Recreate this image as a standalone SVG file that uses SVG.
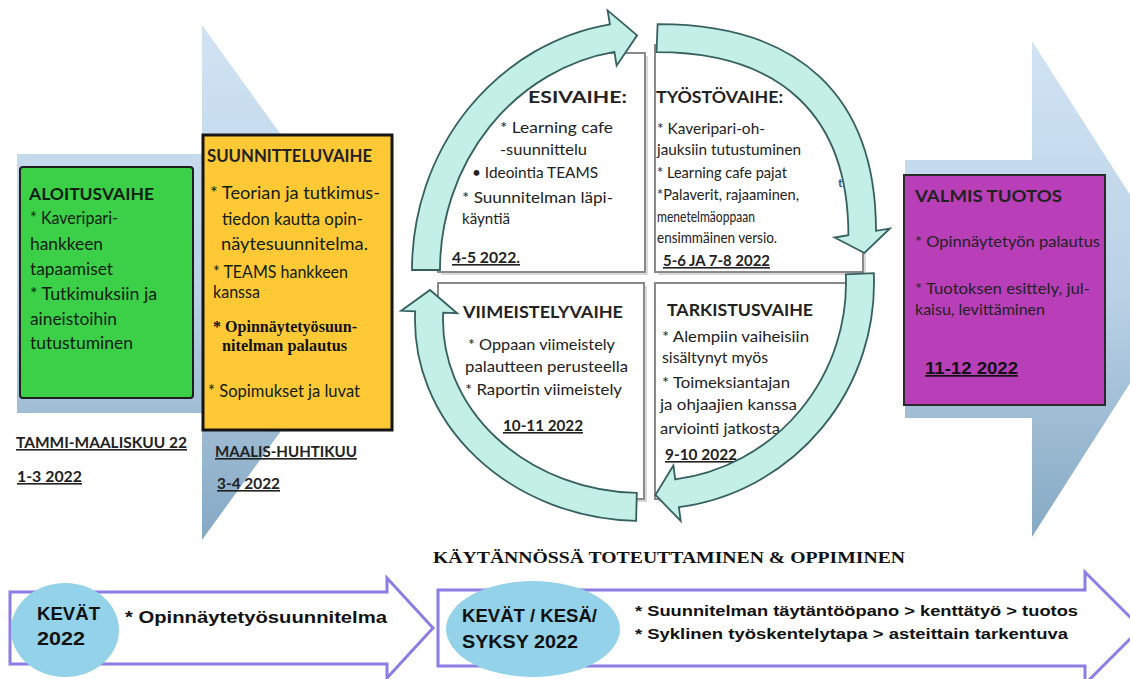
<svg xmlns="http://www.w3.org/2000/svg" width="1130" height="679" viewBox="0 0 1130 679">
<defs>
<linearGradient id="bgL" gradientUnits="userSpaceOnUse" x1="0" y1="25" x2="0" y2="540">
<stop offset="0" stop-color="#d0e3f3"/><stop offset="0.5" stop-color="#bad2e6"/><stop offset="1" stop-color="#86a9c4"/>
</linearGradient>
<linearGradient id="bgR" gradientUnits="userSpaceOnUse" x1="0" y1="41" x2="0" y2="537">
<stop offset="0" stop-color="#d0e3f3"/><stop offset="0.5" stop-color="#bad2e6"/><stop offset="1" stop-color="#86a9c4"/>
</linearGradient>
<clipPath id="cpTL"><ellipse cx="648" cy="270" rx="236" ry="249"/></clipPath>
<clipPath id="cpTR"><path d="M640,24.2 L657.6,24.2 C799,24 876,96 876,230.8 L876,290 L640,290 Z"/></clipPath>
<clipPath id="cpBR"><ellipse cx="650" cy="283" rx="224" ry="226"/></clipPath>
<clipPath id="cpBL"><ellipse cx="642" cy="320" rx="227" ry="201"/></clipPath>
<style>
.t{font-family:Lato,"Open Sans",sans-serif;font-size:16px;fill:#222}
.g{font-size:17px;fill:#102010}
.b{font-weight:700}
.u{text-decoration:underline}
.ser{font-family:"Liberation Serif","Times New Roman",serif;font-weight:700;fill:#111}
.ar{font-family:"Liberation Sans",Arial,sans-serif;font-weight:700;fill:#111}
.arc{fill:#c3efe7;stroke:#35605f;stroke-width:1.8;stroke-linejoin:miter}
.quad{fill:#fff;stroke:#8a8a8a;stroke-width:2}
.shadow{fill:#d9d9d9}
.bar{fill:#fff;stroke:#8a7de4;stroke-width:3}
.ell{fill:#93d2e8}
</style>
</defs>

<g id="background-arrows">
<path d="M17,154 H202 V25 L388,283 L202,540 V413 H17 Z" fill="url(#bgL)"/>
<path d="M905,160 H1032 V41 L1190,289 L1032,537 V418 H905 Z" fill="url(#bgR)"/>
</g>

<g id="aloitusvaihe">
<rect x="20" y="167" width="173" height="231" rx="3" fill="#3bd047" stroke="#1f1f1f" stroke-width="2"/>
<text class="t g b" x="29" y="200" textLength="125" lengthAdjust="spacingAndGlyphs">ALOITUSVAIHE</text>
<text class="t g" x="30" y="224" textLength="88" lengthAdjust="spacingAndGlyphs">* Kaveripari-</text>
<text class="t g" x="30" y="250" textLength="73" lengthAdjust="spacingAndGlyphs">hankkeen</text>
<text class="t g" x="30" y="275" textLength="83" lengthAdjust="spacingAndGlyphs">tapaamiset</text>
<text class="t g" x="30" y="300" textLength="127" lengthAdjust="spacingAndGlyphs">* Tutkimuksiin ja</text>
<text class="t g" x="30" y="325" textLength="87" lengthAdjust="spacingAndGlyphs">aineistoihin</text>
<text class="t g" x="30" y="349" textLength="103" lengthAdjust="spacingAndGlyphs">tutustuminen</text>
<text class="t b u" x="16" y="448" fill="#111" textLength="171" lengthAdjust="spacingAndGlyphs">TAMMI-MAALISKUU 22</text>
<text class="t b u" x="17" y="482" textLength="65" lengthAdjust="spacingAndGlyphs">1-3 2022</text>
</g>

<g id="suunnitteluvaihe">
<rect x="203" y="135" width="189" height="295" fill="#ffc935" stroke="#151515" stroke-width="3"/>
<text class="t b" x="207" y="162" style="font-size:16.5px" textLength="165" lengthAdjust="spacingAndGlyphs">SUUNNITTELUVAIHE</text>
<text class="t g" x="210" y="199" textLength="170" lengthAdjust="spacingAndGlyphs">* Teorian ja tutkimus-</text>
<text class="t g" x="222" y="225" textLength="141" lengthAdjust="spacingAndGlyphs">tiedon kautta opin-</text>
<text class="t g" x="221" y="250" textLength="147" lengthAdjust="spacingAndGlyphs">näytesuunnitelma.</text>
<text class="t g" x="213" y="278" textLength="135" lengthAdjust="spacingAndGlyphs">* TEAMS hankkeen</text>
<text class="t g" x="213" y="298" textLength="47" lengthAdjust="spacingAndGlyphs">kanssa</text>
<text class="ser" x="213" y="332" font-size="16" textLength="144" lengthAdjust="spacingAndGlyphs">* Opinnäytetyösuun-</text>
<text class="ser" x="222" y="351" font-size="16" textLength="125" lengthAdjust="spacingAndGlyphs">nitelman palautus</text>
<text class="t g" x="208" y="397" textLength="152" lengthAdjust="spacingAndGlyphs">* Sopimukset ja luvat</text>
<text class="t b u" x="215" y="457" textLength="142" lengthAdjust="spacingAndGlyphs">MAALIS-HUHTIKUU</text>
<text class="t b u" x="217" y="489" textLength="63" lengthAdjust="spacingAndGlyphs">3-4 2022</text>
</g>

<g id="esivaihe">
<g clip-path="url(#cpTL)">
<rect class="shadow" x="441" y="56" width="207" height="219"/>
<rect class="quad" x="438" y="53" width="207" height="219"/>
</g>
<text class="t b" x="528" y="103" style="font-size:17px" textLength="99" lengthAdjust="spacingAndGlyphs">ESIVAIHE:</text>
<text class="t" x="500" y="133" textLength="113" lengthAdjust="spacingAndGlyphs">* Learning cafe</text>
<text class="t" x="500" y="155" textLength="87" lengthAdjust="spacingAndGlyphs">-suunnittelu</text>
<text class="t" x="472" y="178" textLength="126" lengthAdjust="spacingAndGlyphs">• Ideointia TEAMS</text>
<text class="t" x="462" y="203" textLength="151" lengthAdjust="spacingAndGlyphs">* Suunnitelman läpi-</text>
<text class="t" x="462" y="224" textLength="48" lengthAdjust="spacingAndGlyphs">käyntiä</text>
<text class="t b u" x="452" y="263" textLength="68" lengthAdjust="spacingAndGlyphs">4-5 2022.</text>
</g>

<g id="tyostovaihe">
<g clip-path="url(#cpTR)">
<rect class="shadow" x="658" y="48" width="208" height="227"/>
<rect class="quad" x="655" y="45" width="208" height="227"/>
</g>
<text class="t b" x="656" y="103" style="font-size:17px" textLength="127" lengthAdjust="spacingAndGlyphs">TYÖSTÖVAIHE:</text>
<text class="t" x="657" y="134" textLength="108" lengthAdjust="spacingAndGlyphs">* Kaveripari-oh-</text>
<text class="t" x="657" y="155" textLength="144" lengthAdjust="spacingAndGlyphs">jauksiin tutustuminen</text>
<text class="t" x="657" y="178" textLength="130" lengthAdjust="spacingAndGlyphs">* Learning cafe pajat</text>
<text class="t" x="657" y="200" textLength="142" lengthAdjust="spacingAndGlyphs">*Palaverit, rajaaminen,</text>
<text class="t" x="657" y="222" textLength="98" lengthAdjust="spacingAndGlyphs">menetelmäoppaan</text>
<text class="t" x="657" y="243" textLength="120" lengthAdjust="spacingAndGlyphs">ensimmäinen versio.</text>
<text class="t b u" x="663" y="266" textLength="107" lengthAdjust="spacingAndGlyphs">5-6 JA 7-8 2022</text>
</g>

<g id="viimeistelyvaihe">
<g clip-path="url(#cpBL)">
<rect class="shadow" x="441" y="286" width="206" height="216"/>
<rect class="quad" x="438" y="283" width="206" height="216"/>
</g>
<text class="t b" x="463" y="318" style="font-size:17px" textLength="160" lengthAdjust="spacingAndGlyphs">VIIMEISTELYVAIHE</text>
<text class="t" x="468" y="350" textLength="147" lengthAdjust="spacingAndGlyphs">* Oppaan viimeistely</text>
<text class="t" x="465" y="372" textLength="163" lengthAdjust="spacingAndGlyphs">palautteen perusteella</text>
<text class="t" x="465" y="395" textLength="157" lengthAdjust="spacingAndGlyphs">* Raportin viimeistely</text>
<text class="t b u" x="503" y="431" textLength="80" lengthAdjust="spacingAndGlyphs">10-11 2022</text>
</g>

<g id="tarkistusvaihe">
<g clip-path="url(#cpBR)">
<rect class="shadow" x="658" y="286" width="210" height="216"/>
<rect class="quad" x="655" y="283" width="210" height="216"/>
</g>
<text class="t b" x="667" y="316" style="font-size:17px" textLength="146" lengthAdjust="spacingAndGlyphs">TARKISTUSVAIHE</text>
<text class="t" x="662" y="342" textLength="147" lengthAdjust="spacingAndGlyphs">* Alempiin vaiheisiin</text>
<text class="t" x="662" y="363" textLength="106" lengthAdjust="spacingAndGlyphs">sisältynyt myös</text>
<text class="t" x="662" y="388" textLength="128" lengthAdjust="spacingAndGlyphs">* Toimeksiantajan</text>
<text class="t" x="660" y="410" textLength="137" lengthAdjust="spacingAndGlyphs">ja ohjaajien kanssa</text>
<text class="t" x="660" y="434" textLength="120" lengthAdjust="spacingAndGlyphs">arviointi jatkosta</text>
<text class="t b u" x="665" y="460" textLength="72" lengthAdjust="spacingAndGlyphs">9-10 2022</text>
</g>

<g id="valmis-tuotos">
<rect x="904" y="175" width="201" height="230" fill="#b93fb9" stroke="#2a2a2a" stroke-width="2"/>
<text class="t b" x="915" y="202" fill="#1a0a1a" style="font-size:17px" textLength="147" lengthAdjust="spacingAndGlyphs">VALMIS TUOTOS</text>
<text class="t" x="915" y="247" fill="#1a0a1a" textLength="185" lengthAdjust="spacingAndGlyphs">* Opinnäytetyön palautus</text>
<text class="t" x="915" y="294" fill="#1a0a1a" textLength="175" lengthAdjust="spacingAndGlyphs">* Tuotoksen esittely, jul-</text>
<text class="t" x="915" y="315" fill="#1a0a1a" textLength="130" lengthAdjust="spacingAndGlyphs">kaisu, levittäminen</text>
<text class="ar u" x="925" y="374" font-size="17" textLength="93" lengthAdjust="spacingAndGlyphs">11-12 2022</text>
</g>

<g id="connectors">
<path class="arc" d="M412,270 A236,249 0 0 1 609.9,24.3 L607.6,10.4 L637.1,35.3 L616.6,65.7 L614.4,51.9 A208,221 0 0 0 440,270 Z"/>
<path class="arc" d="M657.6,24.2 C799,24 876,96 876,230.8 L889.9,228.5 L864.4,253 L834.6,237.5 L848.4,235.2 C848.4,116 781,52.2 656.5,52.2 Z"/>
<path class="arc" d="M873.8,273.1 A224,226 0 0 1 678.9,507.1 L680.7,521 L655.5,494.9 L673.4,465.5 L675.2,479.4 A196,198 0 0 0 845.8,274.4 Z"/>
<path class="arc" d="M636.1,520.9 A227,201 0 0 1 415.2,311.4 L401.2,310.8 L430,290 L457.2,313.2 L443.2,312.6 A199,173 0 0 0 636.8,492.9 Z"/>
</g>

<g id="stray-mark">
<text class="t b" x="838" y="187" style="font-size:12px;fill:#2f4f9a">t</text>
</g>

<g id="heading">
<text class="ser" x="433" y="563" font-size="17" fill="#222" textLength="472" lengthAdjust="spacingAndGlyphs">KÄYTÄNNÖSSÄ TOTEUTTAMINEN &amp; OPPIMINEN</text>
</g>

<g id="kevat-2022">
<path class="bar" d="M10,592 H387 V578 L433,628 L387,678 V664 H10 Z"/>
<ellipse class="ell" cx="65" cy="630" rx="54" ry="47"/>
<text class="ar" x="37" y="620" font-size="18" textLength="63" lengthAdjust="spacingAndGlyphs">KEVÄT</text>
<text class="ar" x="37" y="645" font-size="18" textLength="48" lengthAdjust="spacingAndGlyphs">2022</text>
<text class="ar" x="125" y="623" font-size="17" textLength="262" lengthAdjust="spacingAndGlyphs">* Opinnäytetyösuunnitelma</text>
</g>

<g id="kevat-kesa-syksy-2022">
<path class="bar" d="M438,590 H1085 V572 L1141,628 L1085,684 V666 H438 Z"/>
<ellipse class="ell" cx="533" cy="629" rx="87" ry="48"/>
<text class="ar" x="462" y="622" font-size="18" textLength="135" lengthAdjust="spacingAndGlyphs">KEVÄT / KESÄ/</text>
<text class="ar" x="462" y="648" font-size="18" textLength="116" lengthAdjust="spacingAndGlyphs">SYKSY 2022</text>
<text class="ar" x="635" y="616" font-size="15" textLength="443" lengthAdjust="spacingAndGlyphs">* Suunnitelman täytäntööpano &gt; kenttätyö &gt; tuotos</text>
<text class="ar" x="635" y="639" font-size="15" textLength="433" lengthAdjust="spacingAndGlyphs">* Syklinen työskentelytapa &gt; asteittain tarkentuva</text>
</g>
</svg>
